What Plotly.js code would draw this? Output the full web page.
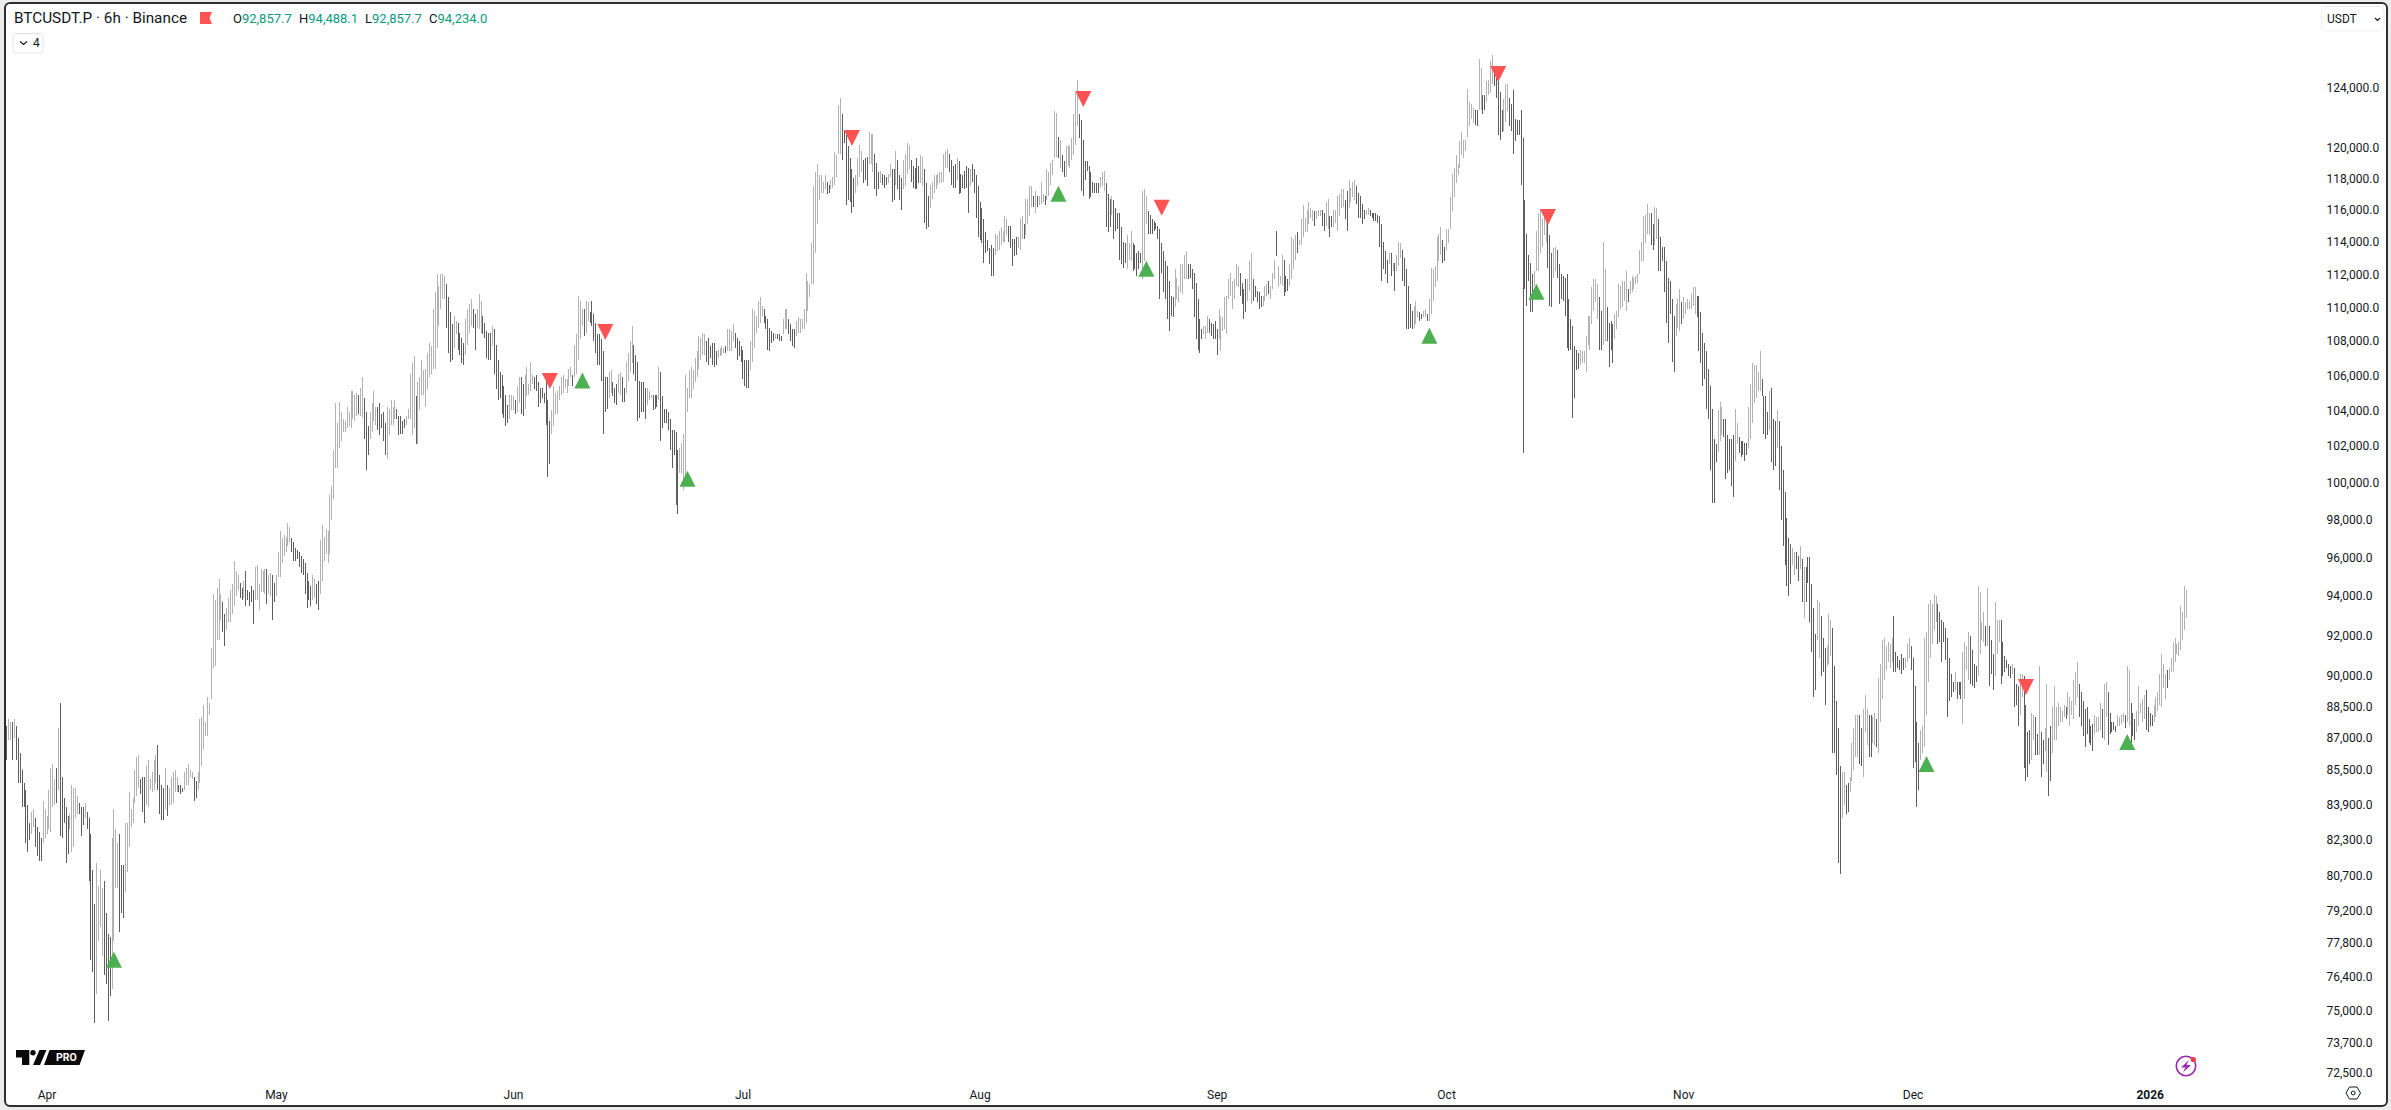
<!DOCTYPE html>
<html><head><meta charset="utf-8">
<script src="https://cdn.plot.ly/plotly-3.0.1.min.js"></script>
<style>
html,body{margin:0;padding:0;width:2391px;height:1110px;overflow:hidden;background:#ececec}
#frame{position:absolute;left:4px;top:2px;width:2384px;height:1105px;box-sizing:border-box;background:#fff;border:2.5px solid #2f2f2f;border-radius:6px}
#plot{position:absolute;left:0;top:0;width:2391px;height:1110px}
#plot .ohlc path{shape-rendering:crispEdges}
</style></head><body>
<div id="frame"></div><div id="plot"></div>
<script>
// 6h bars. Each pair is open,close in units of 100 USDT.
// (close above open = light bar, close below open = dark bar)
const barsMarApr=[875,859,868,878,868,877,877,859,869,878,875,859,869,848,862,848,854,837,848,837,
845,821,838,817,830,822,825,835,828,836,832,819,828,815,826,813,823,813,821,840,
823,836,825,833,827,845,826,855,837,857,838,850,855,839,845,874,886,824,851,823,
841,830,837,812,833,816,827,834,817,847,819,846,832,846,834,842,839,834,837,824,
837,829,832,839,835,827,832,804,825,770,809,765,794,744,756,812,778,802,784,809,
772,801,804,764,790,760,781,745,780,755,758,823,778,836,801,827,801,821,825,782,
811,790,811,788,799,830,808,830,819,844,828,836,830,841,839,854,842,860,846,861,
850,843,851,835,851,830,838,856,837,859,845,850,844,853,845,859,848,861,866,845,
852,834,847,831,846,831,836,855,847,833,838,846,838,851,839,853,844,854,844,851,
847,844,847,843,846,844,845,853,847,855,847,857,851,854,850,853,851,840,849,841,
845,853,848,878,856,879,864,885,870,877,870,889,880,886];
const barsMay=[888,913,903,940,904,937,917,943,917,948,927,940,936,921,930,914,922,933,926,938,
926,942,930,945,934,957,939,952,942,950,946,938,943,937,938,947,952,934,942,937,
941,934,944,936,942,925,937,954,937,955,932,945,941,953,941,952,940,953,953,935,
940,950,939,951,950,927,946,936,939,950,949,962,949,973,956,969,960,971,962,970,
965,977,967,975,969,962,967,957,964,957,963,958,962,954,960,951,958,950,956,940,
951,933,947,937,944,934,937,950,938,948,945,935,947,932,940,968,947,976,957,970,
961,974,956,973];
const barsJun=[961,992,979,997,990,1017,1007,1043,1007,1032,1018,1044,1022,1038,1027,1034,1027,1033,1029,1041,
1030,1038,1029,1050,1034,1050,1033,1048,1036,1049,1048,1037,1036,1052,1035,1058,1046,1023,1038,1006,
1030,1014,1023,1038,1027,1043,1033,1050,1031,1041,1041,1028,1043,1025,1037,1029,1038,1022,1032,1014,
1012,1041,1025,1040,1031,1045,1031,1041,1034,1045,1040,1034,1036,1025,1036,1026,1033,1026,1034,1029,
1031,1036,1034,1040,1034,1060,1025,1066,1029,1070,1047,1020,1020,1055,1039,1058,1048,1068,1048,1062,
1041,1063,1051,1072,1058,1078,1060,1076,1063,1098,1063,1108,1075,1119,1088,1112,1098,1119,1104,1119,
1104,1118,1113,1087,1105,1072,1096,1067,1089,1068,1075,1094,1083,1091,1090,1074,1084,1071,1081,1066,
1078,1065,1071,1092,1077,1098,1084,1101,1088,1104,1098,1087,1095,1074,1087,1098,1086,1107,1084,1103,
1094,1083,1090,1081,1085,1069,1084,1068,1084,1068,1076,1088,1086,1060,1077,1051,1068,1045,1061,1046,
1059,1037,1053,1035,1048,1030,1042,1032,1034,1048,1039,1048,1039,1047,1045,1037,1038,1053,1043,1058,
1058,1037,1054,1036,1040,1059,1047,1064,1048,1054,1050,1067,1054,1059,1058,1051,1059,1050,1055,1041,
1052,1043,1052,1046,1049,1043,1058,1031,1045,1002,1033,1009,1026,1039,1030,1053,1037,1049,1037,1050,
1045,1053,1048,1058,1049,1059,1052,1057,1049,1057,1053,1063,1058,1064,1059,1053,1058,1077,1060,1083,
1068,1106,1080,1103,1088,1098,1098,1082,1084,1103,1091,1102,1096,1090,1103,1088,1095,1079,1090,1072,
1083,1065,1083,1065,1080,1056,1073,1026,1058,1038,1058,1040,1046,1061,1049,1062,1055,1047,1052,1043,
1054,1042,1049,1060,1048,1061,1058,1044,1052,1044,1049,1067,1056,1072,1061,1079,1066,1088,1077,1060,
1071,1056,1067,1033,1056,1035,1055,1038,1055,1038,1052,1034,1042,1052,1045,1050,1046,1048,1048,1039,
1048,1040,1048,1041,1045,1064,1061,1022,1047,1029,1040,1032,1040,1032,
1038,1028,1034,1017,1028,1007,1028,1014,1027,987,1017,982,1004,1018,1004,1021,995,1026,997,1059,1038,1052,1046,1062];
const barsJul=[1046,1064,1051,1062,1055,1069,1058,1073,1063,1082,1068,1081,1071,1084,1071,1083,1079,1067,1081,1065,
1076,1069,1078,1065,1078,1064,1073,1065,1069,1074,1070,1075,1071,1076,1072,1075,1076,1072,1073,1086,
1073,1086,1073,1085,1079,1089,1084,1075,1081,1068,1079,1070,1076,1067,1074,1057,1068,1053,1068,1052,
1068,1052,1062,1079,1067,1098,1075,1097,1084,1094,1087,1103,1090,1105,1094,1100,1098,1090,1094,1086,
1092,1074,1087,1073,1085,1078,1084,1079,1080,1083,1083,1080,1083,1079,1082,1079,1083,1092,1086,1098,1086,1098,
1092,1083,1089,1079,1086,1076,1086,1075,1082,1091,1084,1093,1084,1092,1086,1092,1086,1098,1090,1120,
1097,1115,1105,1113,1113,1138,1113,1174,1132,1183,1150,1188,1165,1181,1170,1181,1170,1177,1172,1181,
1177,1169,1175,1170,1172,1178,1173,1180,1175,1196,1180,1194,1195,1227,1195,1232,1221,1191,1210,1202,
1207,1162,1200,1165,1192,1164,1185,1157,1179,1161,1170,1181,1174,1192,1180,1201,1183,1197,1191,1176,1192,1178,
1193,1174,1188,1209,1188,1208,1183,1208,1195,1172,1189,1168,1183,1172,1176,1184,1182,1175,1181,1173,
1180,1175,1176,1182,1180,1188,1185,1164,1185,1165,1175,1197,1191,1172,1181,1165,1179,1159,1172,1191,
1174,1195,1182,1202,1185,1201,1191,1177,1187,1173,1186,1172,1192,1172,1187,1176,1176,1194,1174,1193,
1185,1151,1176,1147,1168,1148,1160,1175,1166,1177,1170,1181,1172,1181,1175,1182,1176,1183,1176,1183,
1177,1195,1186,1197,1186,1198,1195,1183,1191,1175,1187,1173,1188,1173,1178,1192,1190,1169,1182,1170,
1181,1173,1184,1172,1187,1173,1186,1157,1174,1185,1188,1177,1185,1170,1181,1154,1174,1142,1164,1140,1160,1138,
1153,1126,1145,1132,1140,1133,1135,1125,1137,1118,1135,1118,1131,1144,1133,1143];
const barsAug=[1134,1146,1137,1148,1139,1146,1139,1155,1143,1153,1149,1139,1149,1135,1141,1124,1141,1130,1142,1131,
1135,1142,1134,1153,1141,1155,1150,1141,1143,1166,1150,1166,1155,1174,1161,1174,1168,1161,1157,1171,
1168,1161,1162,1168,1163,1177,1164,1169,1168,1162,1165,1185,1168,1183,1175,1189,1181,1191,1192,1223,
1193,1222,1206,1192,1186,1204,1194,1183,1190,1180,1180,1200,1187,1201,1186,1200,1191,1205,1194,1221,
1201,1236,1213,1244,1221,1205,1217,1171,1204,1168,1190,1178,1190,1184,1187,1166,1183,1167,1177,1170,
1176,1170,1176,1170,1176,1170,1173,1180,1174,1183,1171,1184,1176,1148,1169,1145,1166,1148,1156,1168,
1165,1141,1160,1146,1157,1147,1157,1128,1148,1125,1139,1123,1138,1126,1122,1143,1128,1138,1127,1146,1138,1121,
1137,1122,1132,1118,1133,1122,1132,1126,1116,1171,1127,1172,1150,1168,1158,1144,1156,1144,1153,1144,
1152,1146,1151,1147,1149,1141,1147,1104,1138,1120,1133,1108,1127,1104,1124,1092,1115,1085,1106,1094,
1105,1093,1099,1122,1104,1117,1102,1112,1108,1125,1107,1125,1116,1131,1116,1133,1125,1116,1125,1117,1122,1110,
1120,1093,1114,1080,1104,1074,1092,1072,1086,1080,1083,1088,1080,1088,1084,1094,1092,1084,1090,1082,1089,1080,
1091,1080,1086,1071,1080,1098,1073,1094,1085,1093,1086,1105,1083,1106,1104,1116,1106,1120,1098,1115,1104,1116,
1112,1125,1111,1124,1120,1106,1114,1101,1110,1092,1116,1096,1103,1116,1109,1127,1101,1132,1116,1103,
1112,1105,1109,1102,1108,1098,1106,1099,1100,1106,1103,1112,1106,1113,1115,1107,1104,1112,1110,1120,
1116,1128,1146,1130,1111,1124,1113,1118,1112,1131,1128,1106,1118,1108,1116,1109,1112,1125,1116,1142,1122,1141,
1128,1143,1145,1132,1137,1140,1137,1153,1142,1162,1145,1154,1145,1159,1150,1164,1154,1160,1152,1159,
1158,1149,1153,1158,1155,1159,1155,1159,1159,1149,1157,1146,1149,1164,1147,1166,1155,1142];
const barsSepOct=[1155,1148,1148,1159,1151,1159,1146,1168,1155,1169,1160,1172,1161,1172,1165,1153,1171,1146,1160,1178,
1164,1173,1167,1177,1165,1178,1174,1163,1170,1154,1168,1154,1163,1150,1159,1153,1156,1159,1156,1160,
1159,1155,1157,1154,1157,1152,1157,1152,1156,1151,1155,1136,1150,1115,1139,1122,1133,1119,1128,1114,
1125,1132,1132,1118,1121,1126,1126,1109,1121,1131,1124,1139,1129,1138,1134,1115,1129,1112,1122,1086,
1112,1086,1101,1087,1097,1086,1087,1100,1089,1103,1093,1097,1096,1091,1095,1092,1093,1097,1093,1098,
1095,1091,1091,1104,1095,1123,1103,1122,1111,1124,1115,1142,1127,1144,1131,1148,1140,1126,1136,1127,
1134,1147,1138,1147,1147,1167,1158,1182,1167,1186,1176,1194,1181,1188,1186,1203,1194,1209,1192,1204,
1197,1204,1206,1238,1213,1229,1218,1228,1215,1225,1224,1214,1224,1213,1224,1258,1224,1252,1234,1221,
1234,1224,1229,1243,1234,1244,1235,1257,1241,1261,1249,1240,1250,1232,1245,1207,1236,1204,1224,1209,
1210,1231,1216,1241,1223,1241,1232,1213,1228,1210,1237,1195,1218,1203,1217,1207,1217,1207,1224,1175,
1205,1015,1165,1110,1144,1100,1131,1115,1126,1096,1119,1096,1112,1121,1121,1146,1121,1157,1132,1159,
1136,1154,1143,1155,1139,1158,1158,1123,1143,1100,1132,1099,1117,1135,1121,1136,1134,1117,1125,1101,
1119,1104,1118,1103,1117,1094,1119,1075,1104,1073,1092,1074,1088,1035,1076,1046,1074,1062,1072,1063,
1065,1074,1066,1073,1066,1073,1061,1082,1077,1094,1074,1094,1089,1111,1097,1116,1102,1116,1092,1113,
1105,1074,1097,1074,1077,1139,1079,1122,1099,1079,1090,1064,1091,1074,1089,1066,1080,1095,1086,1097,
1093,1113,1098,1112,1099,1115,1103,1115,1097,1121,1110,1102,1107,1115,1108,1118,1110,1117,1113,1118,
1114,1119,1119,1134,1127,1139,1127,1155,1138,1156,1144,1163,1143,1157,1157,1137,1150,1134,1137,1161,
1141,1160,1153,1121];
const barsNov=[1142,1121,1136,1127,1136,1108,1127,1090,1117,1078,1115,1095,1104,1067,1094,1061,1082,1101,1087,1104,
1085,1110,1102,1089,1092,1105,1095,1102,1098,1104,1098,1103,1098,1107,1100,1111,1095,1111,1106,1093,
1106,1073,1096,1066,1084,1053,1078,1057,1073,1040,1063,1034,1053,1006,1040,988,1023,988,1020,1010,
1016,1039,1022,1044,1025,1041,1034,1024,1034,1001,1025,1004,1023,1006,1023,997,1025,991,1011,1040,
1020,1032,1024,1015,1022,1013,1022,1014,1021,1011,1021,1014,1018,1041,1023,1054,1032,1066,1043,1065,
1046,1065,1050,1061,1050,1073,1057,1047,1047,1026,1047,1023,1038,1025,1028,1050,1052,1010,1034,1006,
1033,1008,1018,1039,1033,995,1019,979,1006,965,994,955,980,944,969,939,966,945,955,964,
950,962,962,953,960,947,953,965,958,936,928,954,954,936,959,946,959,926,945,911,
933,889,920,892,917,937,908,936,929,899,918,901,913,885,904,914,905,930,909,927,
923,862,904,862,887,852,874,812,856,807,832,853,838,853,847,834,848,835,844,851,
849,867,854,874,860,880,860,880,880,857,874,856,851,883,872,890,866,883,880,860,
880,860,867,879,866,881,878,865,862,898,877,905,888,917,897,918,902,914,906,916,
903,915,906,918,929,901,911,901,909,903,907,902,910,900,908,902,903,908,906,915,
908,918,914,902,908,855,894,858,877,837,867,845,859,873,862,875,865,918,880,921,
896,935,908,937,915,935,922,940,926,939,935,915,931,916,927,906,926,916,923,907,
918,879,908,887,900,889,896,891,892,901,896,888,896,890,896,888,876,911,888,916,
902,914,897,921,919,895,912,894,905,893,904,896,899,944,910,941,917,926,916,931,
924,914,914,943];
const barsDecJan=[924,894,917,900,910,892,899,936,910,927,916,927,927,895,916,899,909,901,907,903,
905,899,904,898,900,905,903,884,895,885,894,875,880,900,889,900,899,855,885,849,
872,851,873,857,859,881,868,880,879,861,871,861,861,904,872,851,868,857,863,874,
853,895,869,842,875,849,862,884,868,894,868,884,875,886,877,884,877,882,879,885,
884,878,880,891,875,889,880,887,878,897,885,901,889,906,895,879,891,875,887,870,
883,865,884,871,878,867,875,866,876,863,871,880,872,879,872,879,873,886,883,869,
868,895,879,896,891,866,881,871,877,872,877,873,875,872,875,880,875,879,876,880,
877,881,880,874,877,904,875,902,886,867,881,870,878,868,872,882,875,894,881,886,
877,888,878,890,892,873,884,872,881,875,880,875,877,885,879,889,882,891,885,900,
884,910,893,905,888,900,902,893,897,903,901,908,901,916,906,918,910,915,909,916,
912,934,917,931,922,944,928,942];

const firstBarTime = '2025-03-26T18:00:00Z';
const barHours = 6;
const priceUnit = 100.1;

const buySignalBars   = [56, 301, 356, 550, 596, 744, 800, 1004, 1109];
const buySignalPrices = [77440, 106170, 100640, 117550, 112840, 108800, 111430, 86150, 87190];
const sellSignalBars   = [284, 313, 442, 563, 604, 780, 806, 1056];
const sellSignalPrices = [105230, 108080, 120120, 122700, 115650, 124390, 115060, 89070];

const priceTicks = [124000,120000,118000,116000,114000,112000,110000,108000,106000,104000,102000,100000,98000,96000,94000,92000,90000,88500,87000,85500,83900,82300,80700,79200,77800,76400,75000,73700,72500];
const timeTickDates = ['2025-04-01','2025-05-01','2025-06-01','2025-07-01','2025-08-01','2025-09-01','2025-10-01','2025-11-01','2025-12-01','2026-01-01'];
const timeTickLabels = ['Apr','May','Jun','Jul','Aug','Sep','Oct','Nov','Dec','<b>2026</b>'];

const pairs = [].concat(barsMarApr,barsMay,barsJun,barsJul,barsAug,barsSepOct,barsNov,barsDecJan);
const open=[],close=[],high=[],low=[],time=[];
const t0 = Date.parse(firstBarTime), step = barHours*3600e3;
const toTime = i => new Date(t0 + i*step).toISOString();
for(let i=0;i<pairs.length;i+=2){
  const o=pairs[i]*priceUnit,c=pairs[i+1]*priceUnit;
  open.push(o);close.push(c);high.push(Math.max(o,c));low.push(Math.min(o,c));time.push(toTime(i/2));
}

// layout geometry (page pixels)
const W=2391,H=1110,L=6,R=2320,T=6,B=1082;
const PX_PER_BAR=1.912, BAR0_X=6.85, REF_P=124000, REF_Y=87.7, PX_PER_LN=1835.3;
const xAt=px=>toTime((px-BAR0_X)/PX_PER_BAR);
const logAt=py=>Math.log10(REF_P*Math.exp(-(py-REF_Y)/PX_PER_LN));
const fx=x=>(x-L)/(R-L), fy=y=>1-(y-T)/(B-T);
const poly=pts=>'M'+pts.map(p=>fx(p[0])+','+fy(p[1])).join('L')+'Z';
const paperShape=(o)=>Object.assign({xref:'paper',yref:'paper',line:{width:0}},o);
const roundRect=(x0,y0,x1,y1,r)=>{
  const P=(x,y)=>fx(x)+','+fy(y);
  return 'M'+P(x0+r,y0)+'L'+P(x1-r,y0)+'Q'+P(x1,y0)+' '+P(x1,y0+r)+'L'+P(x1,y1-r)+'Q'+P(x1,y1)+' '+P(x1-r,y1)+'L'+P(x0+r,y1)+'Q'+P(x0,y1)+' '+P(x0,y1-r)+'L'+P(x0,y0+r)+'Q'+P(x0,y0)+' '+P(x0+r,y0)+'Z';
};
const circle=(cx,cy,r,o)=>paperShape(Object.assign({type:'circle',x0:fx(cx-r),x1:fx(cx+r),y0:fy(cy+r),y1:fy(cy-r)},o));
const open_=pts=>'M'+pts.map(p=>fx(p[0])+','+fy(p[1])).join('L');

const shapes=[];
buySignalBars.forEach((b,i)=>shapes.push({type:'path',xref:'x',yref:'y',xsizemode:'pixel',ysizemode:'pixel',xanchor:toTime(b),yanchor:buySignalPrices[i],path:'M-8,-16L8,-16L0,0Z',fillcolor:'#4caf50',line:{width:0}}));
sellSignalBars.forEach((b,i)=>shapes.push({type:'path',xref:'x',yref:'y',xsizemode:'pixel',ysizemode:'pixel',xanchor:toTime(b),yanchor:sellSignalPrices[i],path:'M-8,16L8,16L0,0Z',fillcolor:'#ff5252',line:{width:0}}));
// legend flag, buttons, logo, icons
shapes.push(paperShape({type:'path',path:poly([[200,12],[212,12],[209.5,18],[212,24],[200,24]]),fillcolor:'#ff5252'}));
shapes.push(paperShape({type:'path',path:roundRect(13,33.5,43,53,3),fillcolor:'#ffffff',line:{color:'#e0e3eb',width:1}}));
shapes.push(paperShape({type:'path',path:open_([[20,41.5],[23.5,44.5],[27,41.5]]),line:{color:'#131722',width:1.2}}));
shapes.push(paperShape({type:'path',path:roundRect(2321.5,6.5,2384,31,4),fillcolor:'#ffffff',line:{color:'#eeeeee',width:1}}));
shapes.push(paperShape({type:'path',path:open_([[2375,18],[2377.5,20.5],[2380,18]]),line:{color:'#131722',width:1.2}}));
shapes.push(paperShape({type:'path',path:poly([[16,1050],[29.3,1050],[29.3,1065],[22,1065],[22,1057.5],[16,1057.5]]),fillcolor:'#0a0a0a'}));
shapes.push(circle(33,1052.8,2.7,{fillcolor:'#0a0a0a'}));
shapes.push(paperShape({type:'path',path:poly([[39.5,1050],[46.5,1050],[40,1065],[33,1065]]),fillcolor:'#0a0a0a'}));
shapes.push(paperShape({type:'path',path:poly([[49.5,1050],[85,1050],[79.5,1065],[44,1065]]),fillcolor:'#0a0a0a'}));
shapes.push(circle(2186,1066,9.7,{line:{color:'#9c27b0',width:1.6},fillcolor:'rgba(0,0,0,0)'}));
shapes.push(paperShape({type:'path',path:poly([[2189,1060],[2181,1067.5],[2185.5,1067.5],[2183,1072.5],[2191,1065],[2186.5,1065]]),fillcolor:'#9c27b0'}));
shapes.push(circle(2193.3,1059.5,2.6,{fillcolor:'#f23645'}));
shapes.push(paperShape({type:'path',path:poly([[2346,1093],[2349.5,1087],[2357,1087],[2360.5,1093],[2357,1099],[2349.5,1099]]),fillcolor:'rgba(0,0,0,0)',line:{color:'#131722',width:1}}));
shapes.push(circle(2353.2,1093,1.9,{fillcolor:'rgba(0,0,0,0)',line:{color:'#131722',width:1}}));

const note=(x,y,text,size,opts)=>Object.assign({xref:'paper',yref:'paper',x:fx(x),y:fy(y),xanchor:'left',yanchor:'middle',text,showarrow:false,align:'left',borderpad:0,font:{family:'Roboto, sans-serif',size:size,color:'#131722'}},opts||{});
const val=v=>'<span style="color:#089981">'+v+'</span>';
const annotations=[
  note(13,18,'BTCUSDT.P · 6h · Binance',15.3),
  note(232,18,'O'+val('92,857.7'),13),
  note(298,18,'H'+val('94,488.1'),13),
  note(364,18,'L'+val('92,857.7'),13),
  note(428,18,'C'+val('94,234.0'),13),
  note(32,43.5,'4',12),
  note(2325.5,18.5,'USDT',12),
  note(54.5,1057.5,'<b>PRO</b>',10.5,{font:{family:'Roboto, sans-serif',size:10.5,color:'#ffffff'}})
];

Plotly.newPlot('plot',[{
  type:'ohlc',x:time,open,high,low,close,tickwidth:0,
  increasing:{line:{color:'#b2b2b2',width:1}},
  decreasing:{line:{color:'#5d5d5d',width:1}},
  hoverinfo:'skip',showlegend:false
}],{
  width:W,height:H,showlegend:false,hovermode:false,dragmode:false,
  paper_bgcolor:'rgba(0,0,0,0)',plot_bgcolor:'rgba(0,0,0,0)',
  margin:{l:L,r:W-R,t:T,b:H-B,pad:0},
  xaxis:{type:'date',range:[xAt(L),xAt(R)],rangeslider:{visible:false},showgrid:false,zeroline:false,showline:false,
    tickmode:'array',tickvals:timeTickDates,ticktext:timeTickLabels,ticks:'outside',ticklen:2,tickcolor:'rgba(0,0,0,0)',
    tickfont:{family:'Roboto, sans-serif',size:12,color:'#131722'}},
  yaxis:{type:'log',side:'right',range:[logAt(B),logAt(T)],showgrid:false,zeroline:false,showline:false,
    tickmode:'array',tickvals:priceTicks,
    ticktext:priceTicks.map(v=>v.toLocaleString('en-US',{minimumFractionDigits:1,maximumFractionDigits:1})),
    ticks:'outside',ticklen:3,tickcolor:'rgba(0,0,0,0)',
    tickfont:{family:'Roboto, sans-serif',size:12,color:'#131722'}},
  shapes,annotations
},{staticPlot:true,displayModeBar:false,responsive:false});
</script></body></html>
